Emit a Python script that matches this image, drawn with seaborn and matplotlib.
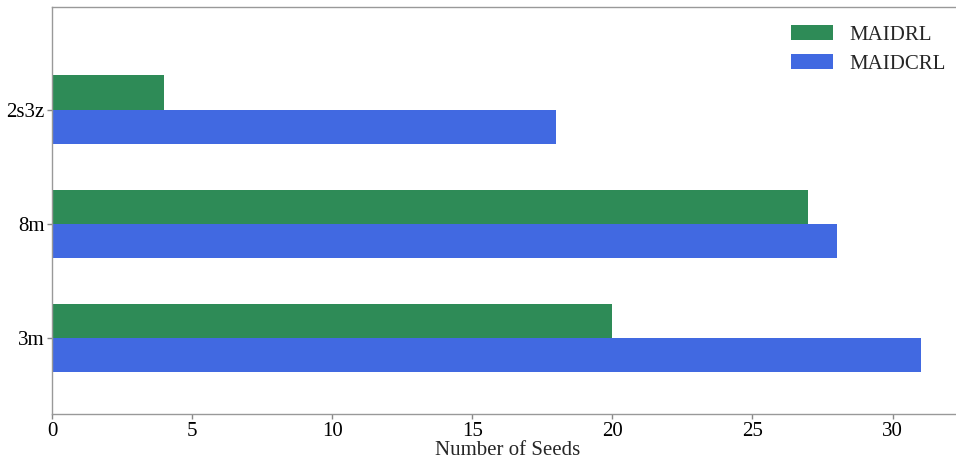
import matplotlib
matplotlib.use("Agg")
import matplotlib.pyplot as plt
import seaborn as sns
import pandas as pd

# Seeds solved per scenario for each method
scenarios = ["2s3z", "8m", "3m"]
maidrl_seeds = [4, 27, 20]
maidcrl_seeds = [18, 28, 31]
methods = ["MAIDRL", "MAIDCRL"]
palette = {"MAIDRL": "#2E8B57", "MAIDCRL": "#4169E1"}

df = pd.DataFrame({
    "scenario": scenarios * 2,
    "seeds": maidrl_seeds + maidcrl_seeds,
    "method": [methods[0]] * len(scenarios) + [methods[1]] * len(scenarios),
})

sns.set_style("white")
plt.rcParams["font.family"] = ["Liberation Serif", "DejaVu Serif"]

fig = plt.figure(figsize=(9.56, 4.65), dpi=100)
ax = fig.add_axes([52 / 956, 51 / 465, (964 - 52) / 956, (414 - 7) / 465])

sns.barplot(data=df, x="seeds", y="scenario", hue="method", order=scenarios,
            hue_order=methods, palette=palette, orient="h", width=0.6,
            saturation=1, errorbar=None, linewidth=0, ax=ax)

ax.set_xlim(0, 32.55)
ax.set_ylim(2.667, -0.9)
ax.set_xticks([0, 5, 10, 15, 20, 25, 30])
ax.set_xlabel("Number of Seeds", fontsize=15, labelpad=0)
ax.set_ylabel("")
ax.tick_params(axis="both", labelsize=15, length=3.5, width=1,
               color="#888888", labelcolor="black", pad=2, direction="out")
ax.tick_params(axis="both", bottom=True, left=True)
for s in ax.spines.values():
    s.set_color("#999999")
    s.set_linewidth(1)
ax.spines["right"].set_visible(False)

handles, labels = ax.get_legend_handles_labels()
ax.legend(handles, labels, loc="upper right", bbox_to_anchor=(946 / 956, 1 - 25 / 465),
          bbox_transform=fig.transFigure, frameon=False, fontsize=15,
          handlelength=2.0, handleheight=0.72, handletextpad=0.8,
          labelspacing=0.45, borderpad=0, borderaxespad=0)

fig.savefig("out.png", dpi=100)
